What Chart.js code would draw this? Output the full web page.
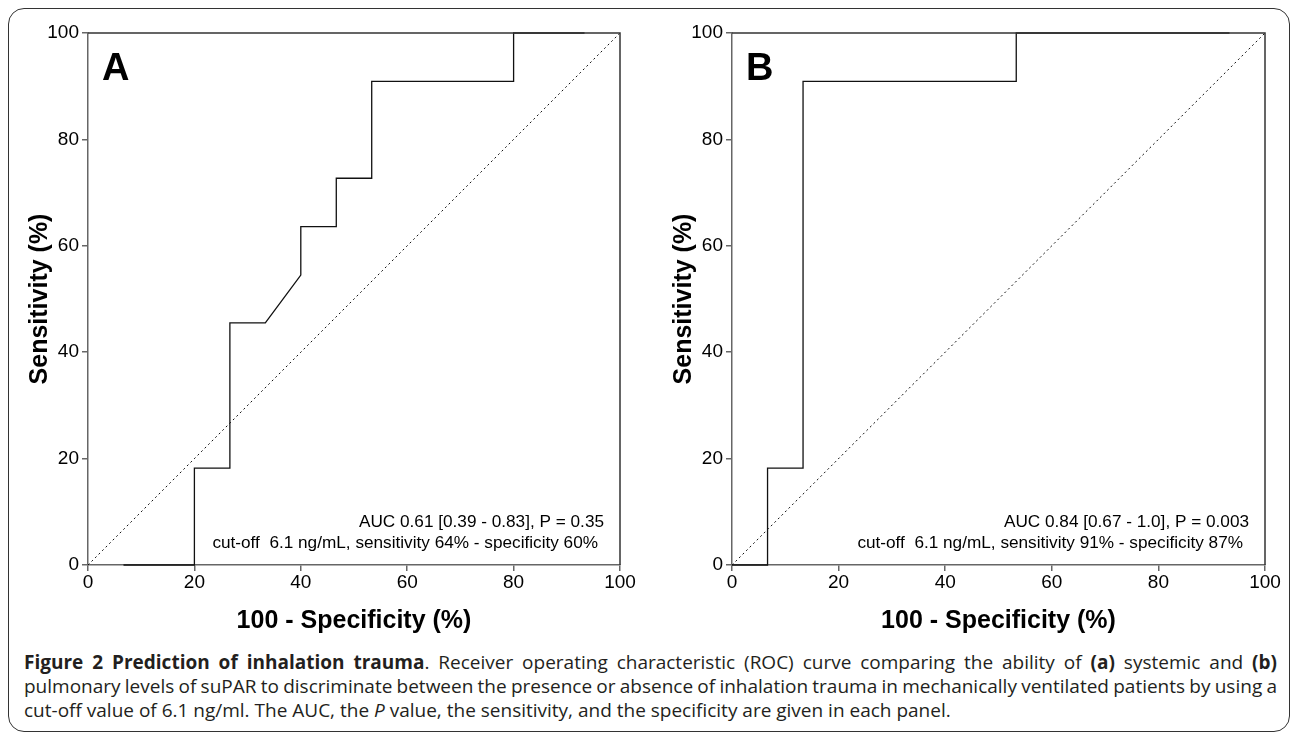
<!DOCTYPE html>
<html><head><meta charset="utf-8">
<script src="https://cdn.jsdelivr.net/npm/chart.js@4.4.0/dist/chart.umd.min.js"></script>
<style>
html,body{margin:0;padding:0;background:#fff;width:1293px;height:733px;overflow:hidden}
#frame{position:absolute;left:8px;top:8px;width:1282px;height:724px;border:1.5px solid #333;border-radius:16px;box-sizing:border-box}
.pane{position:absolute;top:0;width:640px;height:640px}
#pa{left:0}
#pb{left:644px;width:641px}
#cap{position:absolute;left:24px;top:650px;width:1253px;font-family:"Open Sans",sans-serif;font-size:19px;line-height:24px;color:#231f20;white-space:nowrap}
.j{text-align:justify;text-align-last:justify;white-space:normal;word-spacing:-2px}
</style></head><body>
<div id="frame"></div>
<div class="pane" id="pa"><canvas id="ca"></canvas></div>
<div class="pane" id="pb"><canvas id="cb"></canvas></div>
<div id="cap">
<div class="j"><b>Figure 2 Prediction of inhalation trauma</b>. Receiver operating characteristic (ROC) curve comparing the ability of <b>(a)</b> systemic and <b>(b)</b></div>
<div class="j">pulmonary levels of suPAR to discriminate between the presence or absence of inhalation trauma in mechanically ventilated patients by using a</div>
<div>cut-off value of 6.1 ng/ml. The AUC, the <i>P</i> value, the sensitivity, and the specificity are given in each panel.</div>
</div>
<script>
// ---- data ----
const tickValues = [0, 20, 40, 60, 80, 100];
const panelLabels = ['A', 'B'];
const xTitle = '100 - Specificity (%)';
const yTitle = 'Sensitivity (%)';
const rocA_x = [6.67, 20, 20, 26.67, 26.67, 33.33, 40, 40, 46.67, 46.67, 53.33, 53.33, 80, 80, 93.33];
const rocA_y = [0, 0, 18.2, 18.2, 45.5, 45.5, 54.5, 63.6, 63.6, 72.7, 72.7, 90.9, 90.9, 100, 100];
const rocB_x = [0, 6.67, 6.67, 13.33, 13.33, 53.33, 53.33, 93.33];
const rocB_y = [0, 0, 18.2, 18.2, 90.9, 90.9, 100, 100];
const refLine_x = [0, 100];
const refLine_y = [0, 100];
const statsA = ['AUC 0.61 [0.39 - 0.83], P = 0.35', 'cut-off  6.1 ng/mL, sensitivity 64% - specificity 60%'];
const statsB = ['AUC 0.84 [0.67 - 1.0], P = 0.003', 'cut-off  6.1 ng/mL, sensitivity 91% - specificity 87%'];

const FONT = '"Liberation Sans", Arial, sans-serif';
const AX = '#666';

const decor = {
  id: 'decor',
  afterDatasetsDraw(chart, args, opts) {
    const {ctx, chartArea: a} = chart;
    ctx.save();
    ctx.strokeStyle = '#333'; ctx.lineWidth = 1.5;
    ctx.beginPath();
    ctx.moveTo(a.left, a.top); ctx.lineTo(a.right, a.top); ctx.lineTo(a.right, a.bottom);
    ctx.stroke();
    ctx.fillStyle = '#000';
    ctx.textBaseline = 'alphabetic';
    ctx.textAlign = 'left';
    ctx.font = 'bold 38px ' + FONT;
    ctx.fillText(opts.label, a.left + 14, a.top + 47);
    ctx.font = '17.2px ' + FONT;
    ctx.textAlign = 'right';
    ctx.fillText(opts.stats[0], a.right - 16, a.bottom - 38);
    ctx.fillText(opts.stats[1], a.right - 22, a.bottom - 17);
    ctx.restore();
  }
};

function pts(xs, ys) { return xs.map((x, i) => ({x: x, y: ys[i]})); }

function makeChart(id, rx, ry, label, stats) {
  const axisCommon = {
    type: 'linear', min: 0, max: 100,
    afterBuildTicks: s => { s.ticks = tickValues.map(v => ({value: v})); },
    grid: {drawOnChartArea: false, drawTicks: true, tickLength: 6, color: AX, lineWidth: 1.5},
    border: {display: true, color: AX, width: 1.5}
  };
  const tickFont = {family: FONT, size: 19};
  const titleFont = {family: FONT, size: 25, weight: 'bold'};
  return new Chart(document.getElementById(id), {
    type: 'line',
    data: {
      datasets: [
        {data: pts(rx, ry), borderColor: '#111', borderWidth: 1.3, pointRadius: 0, tension: 0, clip: false},
        {data: pts(refLine_x, refLine_y), borderColor: '#111', borderWidth: 1, borderDash: [2, 3], pointRadius: 0, clip: false}
      ]
    },
    options: {
      responsive: true, maintainAspectRatio: false, animation: false,
      layout: {padding: {top: 33, right: 20, left: 0, bottom: 0}},
      plugins: {legend: {display: false}, tooltip: {enabled: false}, decor: {label: label, stats: stats}},
      scales: {
        x: Object.assign({}, axisCommon, {
          position: 'bottom',
          afterFit: s => { s.height = 75; },
          ticks: {color: '#000', font: tickFont, padding: 0, maxRotation: 0},
          title: {display: true, text: xTitle, color: '#000', font: titleFont, padding: {top: 0, bottom: 4}}
        }),
        y: Object.assign({}, axisCommon, {
          position: 'left',
          afterFit: s => { s.width = 88; },
          ticks: {color: '#000', font: tickFont, padding: 3},
          title: {display: true, text: yTitle, color: '#000', font: titleFont, padding: {top: 25, bottom: 0}}
        })
      }
    },
    plugins: [decor]
  });
}

makeChart('ca', rocA_x, rocA_y, panelLabels[0], statsA);
makeChart('cb', rocB_x, rocB_y, panelLabels[1], statsB);
</script>
</body></html>
